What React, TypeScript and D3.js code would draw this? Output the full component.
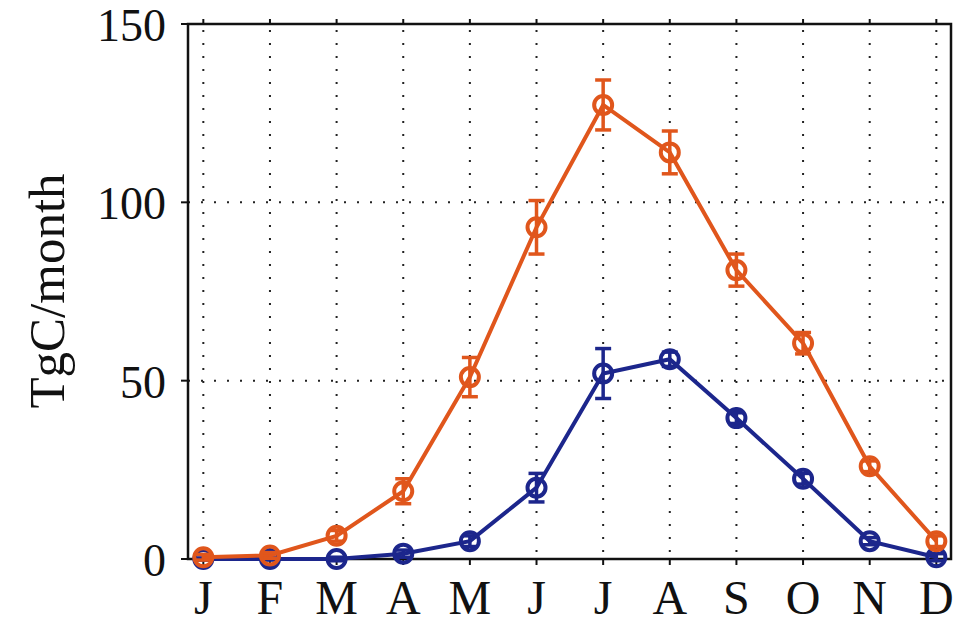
import React from "react";
import * as d3 from "d3";

const months = ["J", "F", "M", "A", "M", "J", "J", "A", "S", "O", "N", "D"];
const orangeVals = [0.5, 1, 6.5, 19, 51, 93, 127.3, 114, 81, 60.5, 26, 5];
const orangeErr = [0.8, 0.8, 1.5, 3.5, 5.5, 7.5, 7, 6, 4.5, 3, 1.5, 1.5];
const blueVals = [0, 0, 0, 1.5, 5, 20, 52, 56, 39.5, 22.5, 5, 0.5];
const blueErr = [0.3, 0.3, 0.5, 1, 1.5, 4, 7, 2, 1.5, 1.5, 1, 1];
const yTicks = [0, 50, 100, 150];
const gridY = [50, 100];

const W = 960, H = 626;
const left = 188, right = 951, top = 24, bottom = 559;

export default function App() {
  const x = d3.scaleLinear().domain([-0.23, 11.22]).range([left, right]);
  const y = d3.scaleLinear().domain([0, 150]).range([bottom, top]);
  const line = d3.line<number>().x((_, i) => x(i)).y((d) => y(d));
  const font = "'Liberation Serif', 'DejaVu Serif', serif";

  const series = [
    { vals: blueVals, err: blueErr, color: "#1C268C" },
    { vals: orangeVals, err: orangeErr, color: "#E0561C" },
  ];

  return (
    <svg width={W} height={H} style={{ position: "absolute", left: 0, top: 0, background: "#fff" }}>
      {/* grid */}
      {months.map((_, i) => (
        <line key={"gv" + i} x1={x(i)} x2={x(i)} y1={top + 6} y2={bottom} stroke="#222" strokeWidth={2} strokeDasharray="2,11" />
      ))}
      {gridY.map((v) => (
        <line key={"gh" + v} x1={left} x2={right} y1={y(v)} y2={y(v)} stroke="#222" strokeWidth={2} strokeDasharray="2,11" />
      ))}
      {/* axes box */}
      <rect x={left} y={top} width={right - left} height={bottom - top} fill="none" stroke="#111" strokeWidth={2.5} />
      {months.map((m, i) => (
        <g key={"mt" + i}>
          <line x1={x(i)} x2={x(i)} y1={top} y2={top - 5} stroke="#111" strokeWidth={2} />
          <line x1={x(i)} x2={x(i)} y1={bottom} y2={bottom + 6} stroke="#111" strokeWidth={2} />
          <text x={x(i)} y={614} textAnchor="middle" fontFamily={font} fontSize={48} fill="#111">{m}</text>
        </g>
      ))}
      {yTicks.map((v) => (
        <g key={"yt" + v}>
          <line x1={left} x2={left - 7} y1={y(v)} y2={y(v)} stroke="#111" strokeWidth={2} />
          <text x={166} y={y(v) + 17} textAnchor="end" fontFamily={font} fontSize={46} fill="#111">{v}</text>
        </g>
      ))}
      <text transform={`translate(64,${291}) rotate(-90)`} textAnchor="middle" fontFamily={font} fontSize={51} fill="#111">TgC/month</text>
      {/* series */}
      {series.map((s, si) => (
        <g key={"s" + si}>
          <path d={line(s.vals) || ""} fill="none" stroke={s.color} strokeWidth={4} />
          {s.vals.map((v, i) => (
            <g key={i}>
              <line x1={x(i)} x2={x(i)} y1={y(v - s.err[i])} y2={y(v + s.err[i])} stroke={s.color} strokeWidth={3.5} />
              <line x1={x(i) - 8} x2={x(i) + 8} y1={y(v - s.err[i])} y2={y(v - s.err[i])} stroke={s.color} strokeWidth={3.5} />
              <line x1={x(i) - 8} x2={x(i) + 8} y1={y(v + s.err[i])} y2={y(v + s.err[i])} stroke={s.color} strokeWidth={3.5} />
              <circle cx={x(i)} cy={y(v)} r={9} fill="none" stroke={s.color} strokeWidth={4} />
            </g>
          ))}
        </g>
      ))}
    </svg>
  );
}
